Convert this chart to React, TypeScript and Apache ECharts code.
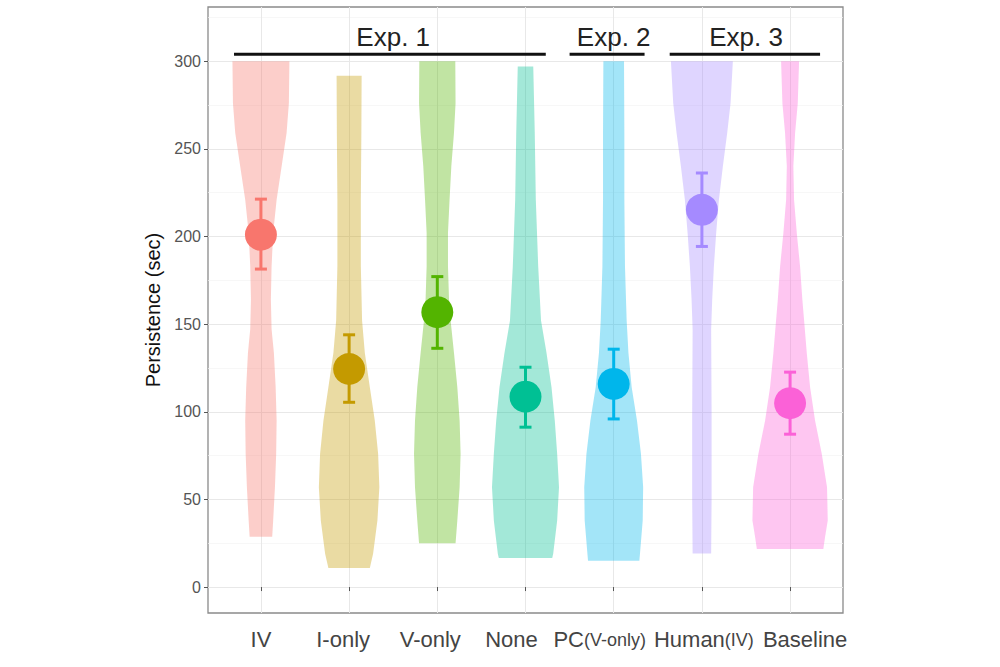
import React, { useEffect, useRef } from 'react';
import * as echarts from 'echarts';

const FONT = '"Liberation Sans", Arial, sans-serif';

const categories = ['IV', 'I-only', 'V-only', 'None', 'PC(V-only)', 'Human(IV)', 'Baseline'];
const colors = ['#F8766D', '#C49A00', '#53B400', '#00C094', '#00B6EB', '#A58AFF', '#FB61D7'];
const means = [201.0, 124.4, 156.8, 108.6, 115.9, 215.2, 104.9];
const lowerCI = [181.4, 105.4, 136.2, 91.2, 95.9, 194.3, 87.2];
const upperCI = [221.3, 143.9, 177.1, 125.4, 135.7, 236.2, 122.6];

const yTicks = [0, 50, 100, 150, 200, 250, 300];
const yMinorTicks = [25, 75, 125, 175, 225, 275, 325];
const xTicks = [1, 2, 3, 4, 5, 6, 7];
const Y_MIN = -14.8;
const Y_MAX = 330.9;

// violin outlines: [persistence (sec), half-width in category units], top to bottom
const violinIV = [[300, 0.323], [276, 0.317], [259, 0.291], [240, 0.235], [221, 0.178], [202, 0.139], [183, 0.121], [164, 0.113], [147, 0.121], [133.6, 0.147], [114, 0.167], [95, 0.178], [76, 0.173], [57, 0.159], [38, 0.139], [28.7, 0.128]];
const violinIOnly = [[291.7, 0.142], [259, 0.139], [221, 0.133], [183, 0.133], [152, 0.147], [133.6, 0.178], [114, 0.235], [95, 0.291], [76, 0.329], [57, 0.343], [38, 0.321], [19, 0.272], [10.8, 0.235]];
const violinVOnly = [[300, 0.204], [276, 0.207], [259, 0.189], [240, 0.159], [221, 0.139], [202, 0.121], [183, 0.121], [164, 0.133], [152, 0.151], [133.6, 0.189], [114, 0.227], [95, 0.253], [76, 0.264], [57, 0.253], [38, 0.227], [25, 0.207]];
const violinNone = [[297, 0.088], [259, 0.105], [221, 0.117], [183, 0.144], [152, 0.176], [133.6, 0.238], [114, 0.295], [95, 0.332], [76, 0.359], [57, 0.38], [38, 0.359], [19, 0.314], [16.6, 0.303]];
const violinPC = [[300, 0.117], [259, 0.121], [221, 0.121], [183, 0.128], [152, 0.147], [133.6, 0.167], [114, 0.204], [95, 0.264], [76, 0.309], [57, 0.334], [38, 0.329], [19, 0.298], [15, 0.291]];
const violinHuman = [[300, 0.351], [276, 0.325], [259, 0.287], [240, 0.238], [221, 0.193], [202, 0.162], [183, 0.136], [164, 0.117], [147, 0.105], [100, 0.11], [50, 0.11], [19.2, 0.105]];
const violinBaseline = [[300, 0.102], [276, 0.087], [259, 0.057], [240, 0.037], [221, 0.045], [202, 0.076], [183, 0.113], [164, 0.139], [152, 0.159], [133.6, 0.189], [114, 0.227], [95, 0.283], [76, 0.359], [57, 0.419], [38, 0.427], [28.7, 0.397], [21.7, 0.377]];
const violins = [violinIV, violinIOnly, violinVOnly, violinNone, violinPC, violinHuman, violinBaseline];

const groupLabels = ['Exp. 1', 'Exp. 2', 'Exp. 3'];
const groupLabelX = [2.5, 5, 6.5];
const groupLineStart = [0.695, 4.5, 5.635];
const groupLineEnd = [4.23, 5.35, 7.34];
const groupLineY = 304;

// horizontal nudges (px) of the category labels, as typeset in the original
const labelShiftPx = [0, -6, -7, -14, -14, 2, 15];

function hexToRgba(hex: string, a: number) {
  const n = parseInt(hex.slice(1), 16);
  return `rgba(${(n >> 16) & 255},${(n >> 8) & 255},${n & 255},${a})`;
}

function richLabel(c: string) {
  const m = c.match(/^(.*?)(\(.*\))$/);
  return m ? `{a|${m[1]}}{b|${m[2]}}` : `{a|${c}}`;
}

export default function App() {
  const ref = useRef<HTMLDivElement>(null);
  useEffect(() => {
    if (!ref.current) return;
    const chart = echarts.init(ref.current, null, { renderer: 'svg' });
    const labelRich = {
      a: { fontSize: 22, fill: '#444', color: '#444', fontFamily: FONT },
      b: { fontSize: 18, fill: '#444', color: '#444', fontFamily: FONT, verticalAlign: 'bottom', padding: [0, 0, 1, 0] },
    };
    const option: any = {
      animation: false,
      backgroundColor: '#ffffff',
      textStyle: { fontFamily: FONT },
      grid: {
        left: 208, right: 157, top: 7, bottom: 54,
        show: true, borderColor: '#8a8a8a', borderWidth: 1.3, backgroundColor: '#ffffff',
        containLabel: false, outerBoundsMode: 'none',
      },
      xAxis: {
        type: 'value', min: 0.4, max: 7.6,
        axisLine: { show: false },
        axisTick: { show: true, customValues: xTicks, length: 4, lineStyle: { color: '#555', width: 1 } },
        axisLabel: { show: false, customValues: xTicks },
        splitLine: { show: true, lineStyle: { color: '#e8e8e8', width: 1 } },
      },
      yAxis: [
        {
          type: 'value', min: Y_MIN, max: Y_MAX,
          name: 'Persistence (sec)', nameLocation: 'middle', nameGap: 37,
          nameTextStyle: { fontSize: 20, color: '#111', fontFamily: FONT },
          axisLine: { show: false },
          axisTick: { show: true, customValues: yTicks, length: 4, lineStyle: { color: '#555', width: 1 } },
          axisLabel: { customValues: yTicks, fontSize: 16, color: '#555', margin: 7, fontFamily: FONT },
          splitLine: { show: true, lineStyle: { color: '#e8e8e8', width: 1 } },
        },
        {
          type: 'value', min: Y_MIN, max: Y_MAX, position: 'left',
          axisLine: { show: false },
          axisTick: { show: false, customValues: yMinorTicks },
          axisLabel: { show: false, customValues: yMinorTicks },
          splitLine: { show: true, lineStyle: { color: '#f3f3f3', width: 0.7 } },
        },
      ],
      series: [
        {
          type: 'custom', name: 'violin', z: 2, silent: true,
          data: categories.map((c, i) => [i + 1, means[i]]),
          encode: { x: 0, y: 1 },
          renderItem: (params: any, api: any) => {
            const i = params.dataIndex;
            const prof = violins[i];
            const x = i + 1;
            const right = prof.map(([v, w]) => api.coord([x + w, v]));
            const left = prof.slice().reverse().map(([v, w]) => api.coord([x - w, v]));
            return {
              type: 'polygon',
              shape: { points: [...right, ...left] },
              style: { fill: hexToRgba(colors[i], 0.36), stroke: 'none' },
            };
          },
        },
        {
          type: 'custom', name: 'errorbar', z: 3, silent: true,
          data: categories.map((c, i) => [i + 1, lowerCI[i], upperCI[i]]),
          encode: { x: 0, y: [1, 2] },
          renderItem: (params: any, api: any) => {
            const i = params.dataIndex;
            const x = api.value(0);
            const lo = api.coord([x, api.value(1)]);
            const hi = api.coord([x, api.value(2)]);
            const cap = 6;
            const st = { stroke: colors[i], lineWidth: 3 };
            return {
              type: 'group',
              children: [
                { type: 'line', shape: { x1: lo[0], y1: lo[1], x2: hi[0], y2: hi[1] }, style: st },
                { type: 'line', shape: { x1: lo[0] - cap, y1: lo[1], x2: lo[0] + cap, y2: lo[1] }, style: st },
                { type: 'line', shape: { x1: hi[0] - cap, y1: hi[1], x2: hi[0] + cap, y2: hi[1] }, style: st },
              ],
            };
          },
        },
        {
          type: 'scatter', name: 'mean', z: 4, silent: true,
          symbol: 'circle', symbolSize: 32,
          data: means.map((m, i) => ({ value: [i + 1, m], itemStyle: { color: colors[i], opacity: 1 } })),
        },
        {
          type: 'custom', name: 'groups', z: 5, silent: true,
          data: groupLabels.map((g, i) => [groupLineStart[i], groupLineY, groupLineEnd[i], groupLabelX[i]]),
          encode: { x: [0, 2, 3], y: 1 },
          renderItem: (params: any, api: any) => {
            const i = params.dataIndex;
            const y = api.value(1);
            const p1 = api.coord([api.value(0), y]);
            const p2 = api.coord([api.value(2), y]);
            const pt = api.coord([api.value(3), y]);
            return {
              type: 'group',
              children: [
                { type: 'line', shape: { x1: p1[0], y1: p1[1], x2: p2[0], y2: p2[1] }, style: { stroke: '#111', lineWidth: 3 } },
                {
                  type: 'text', x: pt[0], y: pt[1] - 4,
                  style: { text: groupLabels[i], fill: '#222', font: `26px ${FONT}`, align: 'center', verticalAlign: 'bottom' },
                },
              ],
            };
          },
        },
        {
          type: 'custom', name: 'categoryLabels', z: 5, silent: true, clip: false,
          data: categories.map((c, i) => [i + 1, Y_MIN]),
          encode: { x: 0, y: 1 },
          renderItem: (params: any, api: any) => {
            const i = params.dataIndex;
            const p = api.coord([api.value(0), api.value(1)]);
            return {
              type: 'text', x: p[0] + labelShiftPx[i], y: p[1] + 15,
              style: {
                text: richLabel(categories[i]), rich: labelRich,
                fill: '#444', fontSize: 22, fontFamily: FONT, align: 'center', verticalAlign: 'top',
              },
            };
          },
        },
      ],
    };
    chart.setOption(option);
    return () => chart.dispose();
  }, []);
  return <div ref={ref} style={{ position: 'absolute', left: 0, top: 0, width: 1000, height: 667 }} />;
}
